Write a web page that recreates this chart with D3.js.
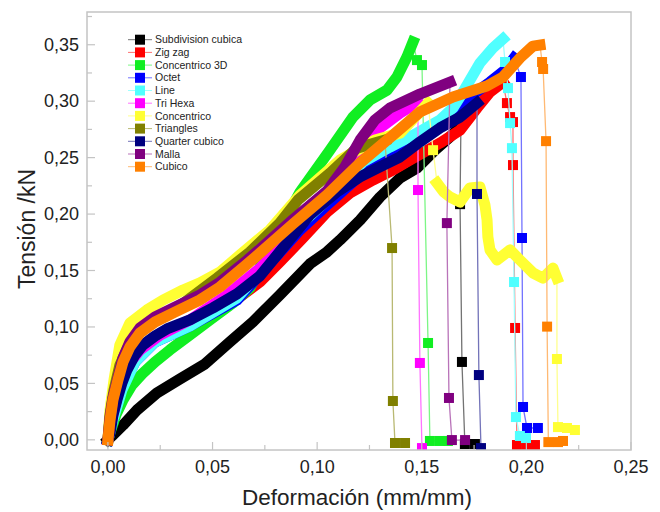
<!DOCTYPE html>
<html><head><meta charset="utf-8">
<script src="https://cdn.jsdelivr.net/npm/d3@7"></script>
<style>body{margin:0;background:#fff}</style>
</head><body>
<svg id="c" width="660" height="512"></svg>
<script>
// ---------------- DATA ----------------
const xTickValues = [0, 0.05, 0.10, 0.15, 0.20, 0.25];
const yTickValues = [0, 0.05, 0.10, 0.15, 0.20, 0.25, 0.30, 0.35];
const seriesNames = ["Subdivision cubica","Zig zag","Concentrico 3D","Octet","Line","Tri Hexa","Concentrico","Triangles","Quarter cubico","Malla","Cubico"];
const seriesColors = ["#000000","#ff0000","#11ee22","#0000ff","#50ffff","#ff00ff","#ffff33","#808000","#000080","#800080","#ff8000"];

// Subdivision cubica
const subdivisionCurve = [[0,0],[0.0024,0.0043],[0.0072,0.013],[0.0139,0.0264],[0.0234,0.0415],[0.0344,0.0539],[0.0464,0.0672],[0.0583,0.0867],[0.0693,0.1045],[0.0822,0.1284],[0.0966,0.1559],[0.1047,0.1665],[0.1109,0.177],[0.1205,0.1947],[0.13,0.215],[0.1396,0.2319],[0.1477,0.2408],[0.1563,0.2567],[0.1635,0.2683],[0.1687,0.278]];
const subdivisionTail = [[0.1683,0.2088],[0.1692,0.069],[0.1706,-0.0037],[0.1754,-0.0037]];
// Zig zag
const zigzagCurve = [[0,0],[0.0024,0.019],[0.0067,0.046],[0.0129,0.0707],[0.0225,0.0885],[0.0392,0.1018],[0.0502,0.1124],[0.0617,0.1248],[0.0727,0.1399],[0.0822,0.1576],[0.0932,0.1788],[0.1047,0.2018],[0.1157,0.2187],[0.1267,0.2302],[0.1362,0.239],[0.1444,0.2479],[0.1587,0.2629],[0.1683,0.2744],[0.1764,0.2939],[0.1826,0.3081],[0.1888,0.3169]];
const zigzagTail = [[0.1907,0.2983],[0.1922,0.2859],[0.1936,0.2815],[0.1936,0.2434],[0.1946,0.0991],[0.1955,-0.0046],[0.2003,-0.0046],[0.2041,-0.0046]];
// Concentrico 3D
const conc3dCurve = [[0,0],[0.0014,0.0087],[0.0038,0.022],[0.0072,0.0353],[0.0115,0.0486],[0.0163,0.0583],[0.0225,0.069],[0.0296,0.0796],[0.0378,0.0911],[0.0488,0.1063],[0.0598,0.1213],[0.0679,0.1346],[0.0774,0.1708],[0.0918,0.2194],[0.1061,0.2566],[0.1171,0.2859],[0.1252,0.301],[0.1334,0.3098],[0.1381,0.3213],[0.1429,0.3391],[0.1458,0.3524]];
const conc3dTail = [[0.1477,0.3364],[0.1501,0.332],[0.153,0.0858],[0.1539,-0.001],[0.1587,-0.001],[0.1625,-0.001]];
// Octet
const octetCurve = [[0,0],[0.0024,0.0193],[0.0067,0.046],[0.0129,0.069],[0.0225,0.0867],[0.0392,0.1009],[0.0617,0.1239],[0.0798,0.1612],[0.0918,0.186],[0.1047,0.208],[0.1219,0.2364],[0.1396,0.2551],[0.1539,0.2727],[0.1659,0.2904],[0.174,0.3054],[0.1826,0.3169],[0.1898,0.3276],[0.1941,0.3382]];
const octetTail = [[0.1974,0.3214],[0.1979,0.1788],[0.1984,0.0291],[0.2003,0.0105],[0.2055,0.0105]];
// Line
const lineCurve = [[0,0],[0.0024,0.0176],[0.0067,0.0442],[0.0129,0.069],[0.0225,0.0867],[0.0392,0.1009],[0.0617,0.1257],[0.0798,0.1638],[0.0918,0.1904],[0.1047,0.2125],[0.1219,0.2461],[0.1348,0.2594],[0.1477,0.2718],[0.1587,0.2833],[0.1649,0.2939],[0.1697,0.3081],[0.1778,0.3338],[0.184,0.3471],[0.1888,0.3551]];
const lineTail = [[0.1898,0.3347],[0.1912,0.3116],[0.1922,0.2806],[0.1931,0.2584],[0.1941,0.1398],[0.195,0.0202],[0.1969,0.0034],[0.1998,0.0016]];
// Tri Hexa
const trihexaCurve = [[0,0],[0.0024,0.022],[0.0057,0.0486],[0.0096,0.0663],[0.0153,0.0796],[0.0249,0.0928],[0.0392,0.1062],[0.0569,0.1283],[0.0727,0.1522],[0.0918,0.1904],[0.1061,0.2214],[0.1181,0.2479],[0.13,0.2762],[0.1396,0.2895],[0.1482,0.2992]];
const trihexaTail = [[0.1482,0.2213],[0.1491,0.0681],[0.1501,-0.0073]];
// Concentrico (rising part, sparse drop, dense wavy part, final drop)
const concCurve = [[0,0],[0.001,0.0264],[0.0029,0.053],[0.0057,0.084],[0.0105,0.1034],[0.0186,0.115],[0.0263,0.1238],[0.0359,0.1327],[0.044,0.139],[0.0535,0.1486],[0.0631,0.1637],[0.0774,0.186],[0.0918,0.2167],[0.1109,0.2478],[0.1276,0.2655],[0.1396,0.2717],[0.153,0.2983]];
const concDrop = [[0.1554,0.2566]];
const concWave = [[0.1573,0.2275],[0.1605,0.2195],[0.1635,0.2151],[0.1683,0.2107],[0.173,0.2231],[0.1778,0.224],[0.1802,0.208],[0.1812,0.1947],[0.1816,0.1797],[0.1826,0.1682],[0.186,0.1593],[0.1922,0.1682],[0.1969,0.1593],[0.2032,0.1478],[0.2079,0.1433],[0.2127,0.1522],[0.2146,0.1433]];
const concTail = [[0.2146,0.0716],[0.2151,0.0113],[0.2194,0.0105],[0.2232,0.0087]];
// Triangles
const trianglesCurve = [[0,0],[0.001,0.022],[0.0029,0.044],[0.0057,0.066],[0.0096,0.082],[0.0153,0.096],[0.0249,0.108],[0.0368,0.122],[0.0521,0.1433],[0.0679,0.1664],[0.0822,0.1921],[0.0908,0.2124],[0.1061,0.2362],[0.119,0.2584],[0.1324,0.2655]];
const trianglesTail = [[0.1358,0.1699],[0.1362,0.0344],[0.1372,-0.0028],[0.142,-0.0028]];
// Quarter cubico
const quarterCurve = [[0,0],[0.001,0.006],[0.0024,0.022],[0.0043,0.0353],[0.0067,0.0504],[0.0091,0.062],[0.0129,0.0752],[0.0167,0.084],[0.0225,0.092],[0.0282,0.0982],[0.0392,0.1062],[0.0502,0.1169],[0.0617,0.1293],[0.0727,0.1453],[0.0856,0.1745],[0.0966,0.1993],[0.1095,0.2197],[0.1205,0.2329],[0.13,0.2418],[0.1396,0.2506],[0.1491,0.2639],[0.1587,0.2763],[0.1683,0.2859],[0.1764,0.2983]];
const quarterTail = [[0.1764,0.2178],[0.1773,0.0574],[0.1783,-0.0073]];
// Malla
const mallaCurve = [[0,0],[0.001,0.0193],[0.0024,0.037],[0.0048,0.0548],[0.0072,0.0726],[0.0105,0.0867],[0.0153,0.0991],[0.0225,0.1088],[0.032,0.1175],[0.044,0.1283],[0.0535,0.1395],[0.0655,0.1575],[0.0727,0.1690],[0.0884,0.1950],[0.1047,0.2205],[0.1133,0.2420],[0.1205,0.2655],[0.1276,0.2833],[0.1348,0.2939],[0.1491,0.3063],[0.1635,0.3169]];
const mallaTail = [[0.162,0.192],[0.163,0.0371],[0.1644,-0.0002],[0.1707,-0.0002]];
// Cubico
const cubicoCurve = [[0,0],[0.001,0.0175],[0.0024,0.0353],[0.0048,0.053],[0.0072,0.069],[0.0105,0.0823],[0.0153,0.0946],[0.0225,0.1044],[0.032,0.1132],[0.044,0.1239],[0.0535,0.1354],[0.0655,0.154],[0.0727,0.1655],[0.0884,0.1912],[0.1047,0.2169],[0.1205,0.2452],[0.1363,0.27],[0.1491,0.2904],[0.1649,0.3037],[0.1811,0.3134],[0.1888,0.3214],[0.1969,0.3382],[0.2031,0.3488],[0.2065,0.3497]];
const cubicoTail = [[0.2075,0.3347],[0.208,0.3285],[0.2094,0.2646],[0.2099,0.1003],[0.2105,-0.002],[0.2151,-0.002],[0.2175,-0.001]];

// each series: dense bands, the thin connecting path, and the sparse marker points
const lastOf = a => a[a.length - 1];
const seriesParts = [
  {bands:[subdivisionCurve], path:[lastOf(subdivisionCurve)].concat(subdivisionTail), marks:subdivisionTail},
  {bands:[zigzagCurve], path:[lastOf(zigzagCurve)].concat(zigzagTail), marks:zigzagTail},
  {bands:[conc3dCurve], path:[lastOf(conc3dCurve)].concat(conc3dTail), marks:conc3dTail},
  {bands:[octetCurve], path:[lastOf(octetCurve)].concat(octetTail), marks:octetTail},
  {bands:[lineCurve], path:[lastOf(lineCurve)].concat(lineTail), marks:lineTail},
  {bands:[trihexaCurve], path:[lastOf(trihexaCurve)].concat(trihexaTail), marks:trihexaTail},
  {bands:[concCurve, concWave], path:[lastOf(concCurve)].concat(concDrop, concWave, concTail), marks:concDrop.concat(concTail)},
  {bands:[trianglesCurve], path:[lastOf(trianglesCurve)].concat(trianglesTail), marks:trianglesTail},
  {bands:[quarterCurve], path:[lastOf(quarterCurve)].concat(quarterTail), marks:quarterTail},
  {bands:[mallaCurve], path:[lastOf(mallaCurve)].concat(mallaTail), marks:mallaTail},
  {bands:[cubicoCurve], path:[lastOf(cubicoCurve)].concat(cubicoTail), marks:cubicoTail}
];

// ---------------- CHART ----------------
const svg = d3.select("#c");
const x = d3.scaleLinear().domain([-0.01, 0.25]).range([87, 631]);
const y = d3.scaleLinear().domain([-0.009, 0.379]).range([450, 12]);
const fmt = v => d3.format(".2f")(v).replace(".", ",");
const font = "Arial, 'Liberation Sans', sans-serif";

svg.append("clipPath").attr("id","pc").append("rect")
  .attr("x", 87).attr("y", 12).attr("width", 544).attr("height", 438);

const plot = svg.append("g").attr("clip-path","url(#pc)");
const line = d3.line().x(d => x(d[0])).y(d => y(d[1]));
const light = c => d3.interpolateRgb(c, "#ffffff")(0.45);

seriesNames.forEach((name, i) => {
  const col = seriesColors[i];
  const parts = seriesParts[i];
  const g = plot.append("g");
  g.append("path").datum(parts.path)
    .attr("d", line).attr("fill","none").attr("stroke", light(col)).attr("stroke-width", 1.3);
  parts.bands.forEach(b => {
    g.append("path").datum(b)
      .attr("d", line).attr("fill","none").attr("stroke", col).attr("stroke-width", 11)
      .attr("stroke-linejoin","round").attr("stroke-linecap","square");
  });
  g.selectAll("rect.m").data(parts.marks).enter().append("rect").attr("class","m")
    .attr("x", d => x(d[0]) - 5).attr("y", d => y(d[1]) - 5)
    .attr("width", 10).attr("height", 10).attr("fill", col);
});

// frame
const axisCol = "#c4c4c4";
svg.append("rect").attr("x", 87).attr("y", 12).attr("width", 544).attr("height", 438)
  .attr("fill","none").attr("stroke", axisCol).attr("stroke-width", 1.5);

// y axis ticks (inward)
const yMinor = d3.range(0, 0.376, 0.025);
svg.append("g").selectAll("line").data(yMinor).enter().append("line")
  .attr("x1", 87).attr("x2", (d,i) => i % 2 === 0 ? 95 : 92)
  .attr("y1", d => y(d)).attr("y2", d => y(d))
  .attr("stroke", axisCol).attr("stroke-width", 1.2);
svg.append("g").selectAll("text").data(yTickValues).enter().append("text")
  .attr("x", 79).attr("y", d => y(d)).attr("dy", "0.35em").attr("text-anchor","end")
  .attr("font-family", font).attr("font-size", 18).attr("fill","#222").text(fmt);

// x axis ticks (inward)
const xMinor = d3.range(0, 0.251, 0.025);
svg.append("g").selectAll("line").data(xMinor).enter().append("line")
  .attr("y1", 450).attr("y2", (d,i) => i % 2 === 0 ? 442 : 445)
  .attr("x1", d => x(d)).attr("x2", d => x(d))
  .attr("stroke", axisCol).attr("stroke-width", 1.2);
svg.append("g").selectAll("text").data(xTickValues).enter().append("text")
  .attr("x", d => x(d)).attr("y", 473).attr("text-anchor","middle")
  .attr("font-family", font).attr("font-size", 18).attr("fill","#222").text(fmt);

// axis titles
svg.append("text").attr("x", 357).attr("y", 505).attr("text-anchor","middle")
  .attr("font-family", font).attr("font-size", 22.5).attr("fill","#222").text("Deformación (mm/mm)");
svg.append("text").attr("transform","translate(35,229) rotate(-90)").attr("text-anchor","middle")
  .attr("font-family", font).attr("font-size", 23).attr("fill","#222").text("Tensión /kN");

// legend
const leg = svg.append("g");
seriesNames.forEach((name, i) => {
  const ly = 39.7 + i * 12.7;
  const col = seriesColors[i];
  leg.append("line").attr("x1", 128).attr("x2", 152).attr("y1", ly).attr("y2", ly)
    .attr("stroke", light(col)).attr("stroke-width", 1);
  leg.append("rect").attr("x", 135).attr("y", ly - 5).attr("width", 10).attr("height", 10).attr("fill", col);
  leg.append("text").attr("x", 155).attr("y", ly).attr("dy","0.35em")
    .attr("font-family", font).attr("font-size", 10.5).attr("fill","#222").text(name);
});
</script>
</body></html>
